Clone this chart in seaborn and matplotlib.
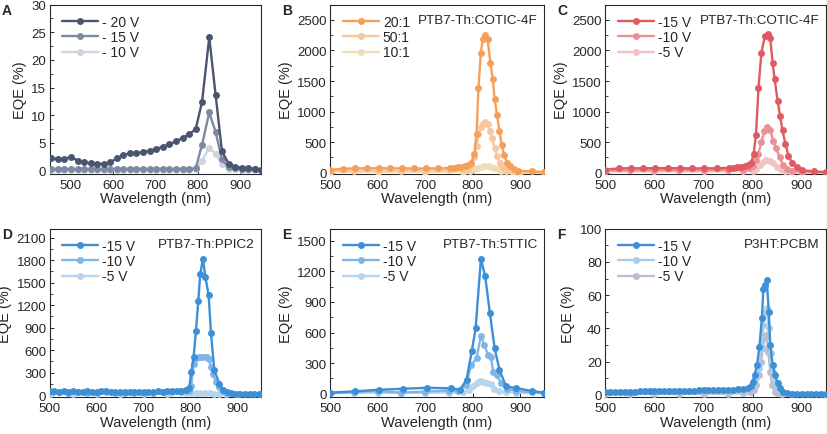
import numpy as np
import pandas as pd
import matplotlib
matplotlib.use("Agg")
import matplotlib.pyplot as plt
import seaborn as sns
from matplotlib.ticker import MultipleLocator, AutoMinorLocator

# ---------------- data ----------------
# Panel A
a_x = [454, 470, 485, 500, 516, 531, 547, 562, 578, 593, 609, 624, 640, 655, 671, 686,
       702, 717, 733, 749, 764, 780, 795, 810, 827, 842, 857, 873, 888, 904, 919, 935, 950]
a_20v = [2.2, 2.1, 2.0, 2.5, 1.8, 1.5, 1.3, 1.2, 1.2, 1.5, 2.2, 2.8, 3.1, 3.2, 3.3, 3.6,
         3.9, 4.3, 4.8, 5.3, 5.9, 6.6, 7.5, 12.4, 24.1, 13.7, 3.5, 1.2, 0.7, 0.5, 0.4, 0.3, 0.1]
a_15v = [0.3, 0.3, 0.3, 0.3, 0.3, 0.3, 0.3, 0.3, 0.3, 0.3, 0.3, 0.3, 0.3, 0.3, 0.3, 0.3,
         0.3, 0.3, 0.3, 0.3, 0.3, 0.3, 0.4, 4.7, 10.5, 7.0, 2.0, 0.6, 0.4, 0.3, 0.3, 0.2, 0.1]
a_10v = [0.1, 0.1, 0.1, 0.1, 0.1, 0.1, 0.1, 0.1, 0.1, 0.1, 0.1, 0.1, 0.1, 0.1, 0.1, 0.1,
         0.1, 0.1, 0.1, 0.1, 0.1, 0.1, 0.2, 1.8, 4.1, 3.0, 1.2, 0.3, 0.2, 0.1, 0.1, 0.1, 0.1]

# Panel B (dilution ratio)
b1_x = [500, 527, 552, 577, 602, 627, 652, 677, 702, 727, 752, 760, 768, 776, 784, 791, 797,
        803, 808, 812, 817, 821, 826, 831, 837, 842, 846, 851, 856, 861, 866, 872, 879, 886,
        895, 925, 950]
b1_y = [45, 65, 70, 70, 72, 72, 70, 68, 68, 70, 75, 80, 85, 95, 105, 120, 160,
        300, 640, 1390, 1960, 2180, 2260, 2190, 1800, 1530, 1200, 950, 680, 450, 290, 160, 110, 60,
        30, 20, 10]
b2_x = [500, 550, 600, 650, 700, 750, 780, 790, 797, 803, 808, 812, 817, 822, 826, 831, 836,
        841, 846, 851, 857, 863, 870, 880, 900, 950]
b2_y = [30, 32, 34, 35, 35, 38, 45, 60, 120, 250, 430, 630, 740, 800, 830, 790, 680,
        560, 400, 270, 150, 80, 40, 20, 10, 5]
b3_x = [500, 600, 700, 780, 795, 803, 810, 817, 824, 831, 838, 845, 852, 860, 870, 885, 950]
b3_y = [15, 15, 15, 18, 30, 55, 80, 100, 110, 105, 95, 75, 55, 35, 20, 10, 5]

# Panel C (bias, COTIC-4F)
c1_x = [500, 527, 552, 577, 602, 627, 652, 677, 702, 727, 752, 760, 768, 776, 784, 791, 797,
        802, 807, 812, 818, 825, 831, 836, 841, 845, 851, 856, 861, 867, 873, 881, 890, 900,
        925, 950]
c1_y = [50, 70, 72, 72, 74, 74, 72, 70, 70, 72, 78, 82, 88, 95, 105, 120, 160,
        300, 620, 1380, 1960, 2230, 2270, 2200, 1790, 1530, 1180, 930, 690, 470, 280, 150, 90, 40,
        20, 10]
c2_x = [500, 550, 600, 650, 700, 750, 780, 792, 800, 806, 812, 818, 824, 830, 836, 842, 848,
        855, 862, 870, 880, 900, 950]
c2_y = [35, 38, 40, 40, 40, 42, 50, 70, 110, 200, 310, 500, 680, 745, 700, 520, 400,
        250, 130, 60, 25, 10, 5]
c3_x = [500, 600, 700, 780, 800, 808, 815, 822, 828, 835, 842, 850, 858, 866, 878, 900, 950]
c3_y = [20, 22, 22, 25, 35, 60, 120, 180, 205, 190, 160, 100, 60, 30, 10, 5, 3]

# Panel D (PTB7-Th:PPIC2)
d1_x = [500, 510, 520, 530, 540, 550, 560, 570, 580, 590, 600, 610, 620, 630, 640, 650, 660,
        670, 680, 690, 700, 710, 720, 730, 740, 750, 760, 770, 780, 790, 797, 801, 806, 811,
        816, 820, 826, 831, 838, 843, 850, 861, 868, 876, 885, 895, 905, 915, 925, 935, 945, 950]
d1_y = [55, 50, 48, 52, 45, 50, 47, 44, 50, 46, 48, 55, 52, 45, 42, 40, 44,
        46, 42, 45, 48, 44, 46, 50, 48, 52, 55, 60, 62, 65, 96, 312, 506, 853,
        1255, 1610, 1818, 1580, 1330, 830, 333, 152, 74, 40, 25, 20, 18, 20, 18, 20, 18, 15]
d2_x = [500, 520, 540, 560, 580, 600, 620, 640, 660, 680, 700, 720, 740, 760, 780, 792, 797,
        801, 806, 811, 817, 822, 828, 834, 838, 843, 847, 853, 860, 868, 878, 900, 950]
d2_y = [40, 38, 36, 38, 35, 36, 38, 34, 35, 36, 34, 36, 38, 40, 45, 50, 60,
        120, 420, 500, 505, 505, 505, 505, 480, 380, 282, 180, 110, 55, 25, 15, 10]
d3_x = [500, 550, 600, 650, 700, 750, 790, 801, 811, 820, 830, 840, 850, 860, 875, 900, 950]
d3_y = [20, 20, 20, 20, 20, 22, 24, 25, 28, 30, 28, 25, 22, 18, 15, 12, 10]

# Panel E (PTB7-Th:5TTIC)
e1_x = [500, 553, 603, 653, 703, 755, 773, 787, 798, 806, 817, 826, 836, 846, 856, 870, 890,
        925, 950]
e1_y = [10, 22, 38, 47, 57, 52, 38, 137, 420, 640, 1320, 1155, 790, 445, 235, 70, 55,
        25, 10]
e2_x = [500, 550, 600, 650, 700, 750, 770, 785, 797, 808, 817, 824, 832, 838, 843, 850, 860,
        872, 890, 925, 950]
e2_y = [5, 15, 25, 10, 20, 30, 25, 80, 280, 350, 565, 480, 383, 360, 215, 180, 105,
        50, 25, 15, 5]
e3_x = [500, 550, 600, 650, 700, 750, 780, 792, 800, 808, 815, 822, 830, 838, 845, 855, 870,
        890, 950]
e3_y = [3, 8, 10, 5, 8, 10, 15, 40, 70, 100, 120, 110, 100, 95, 50, 30, 15,
        8, 3]

# Panel F (P3HT:PCBM)
f1_x = [500, 510, 520, 530, 540, 550, 560, 570, 580, 590, 600, 610, 620, 630, 640, 650, 660,
        670, 680, 690, 700, 710, 720, 730, 740, 750, 760, 770, 780, 790, 796, 800, 804, 809,
        814, 819, 822, 826, 829, 833, 836, 841, 846, 851, 856, 862, 870, 880, 890, 900, 910,
        920, 930, 940, 950]
f1_y = [1.8, 1.8, 1.9, 1.9, 2.0, 2.0, 2.0, 2.1, 2.1, 2.2, 2.2, 2.3, 2.3, 2.4, 2.4, 2.5, 2.5,
        2.6, 2.6, 2.7, 2.8, 2.8, 2.9, 3.0, 3.0, 3.1, 3.2, 3.4, 3.7, 4.3, 5.5, 8, 12, 18,
        29, 46, 64, 66, 69, 50, 30, 18, 12, 7, 4, 2, 1.0, 0.7, 0.6, 0.6, 0.5,
        0.5, 0.5, 0.5, 0.5]
f2_x = [500, 550, 600, 650, 700, 750, 780, 795, 802, 808, 813, 818, 822, 826, 829, 833, 837,
        841, 846, 852, 860, 880, 950]
f2_y = [1.5, 1.8, 2.0, 2.2, 2.4, 2.6, 3.0, 4.0, 6, 10, 16, 28, 42, 50, 52, 40, 25,
        14, 8, 4, 1.5, 0.5, 0.3]
f3_x = [500, 550, 600, 650, 700, 750, 780, 795, 802, 808, 813, 817, 821, 825, 828, 832, 836,
        840, 845, 850, 860, 880, 950]
f3_y = [0.5, 0.5, 0.6, 0.6, 0.7, 0.8, 1.0, 1.5, 3, 6, 12, 20, 28, 35, 36, 26, 14,
        6, 2, 1, 0.5, 0.3, 0.2]

volt_labels_a = ["- 20 V", "- 15 V", "- 10 V"]
ratio_labels = ["20:1", "50:1", "10:1"]
volt_labels = ["-15 V", "-10 V", "-5 V"]

# ---------------- style ----------------
sns.set_theme(style="ticks")
plt.rcParams["font.family"] = ["Liberation Sans", "DejaVu Sans"]
plt.rcParams["axes.linewidth"] = 0.8
plt.rcParams["xtick.direction"] = "in"
plt.rcParams["ytick.direction"] = "in"

grey_a = ["#4a5670", "#7d8aa3", "#cdd3df"]
orange = ["#f5a05a", "#f9c79e", "#efdcb8"]
red = ["#e05a62", "#eb9196", "#f2c2c5"]
blue = ["#3d8fd6", "#80b6e6", "#b7d5ef"]
blue_f = ["#3d8fd6", "#a7cde9", "#b9bfcf"]

fig = plt.figure(figsize=(8.27, 4.35), dpi=100)

row1_b, row2_b = 0.598, 0.084
h1, h2 = 0.389, 0.388
lefts = [0.060, 0.399, 0.732]
widths = [0.256, 0.259, 0.267]


def draw_panel(ax, series, labels, colors, xlim, ylim, ystep, note=None, letter=""):
    # draw lightest first so the strongest curve sits on top
    for i in reversed(range(len(series))):
        x, y = series[i]
        df = pd.DataFrame({"x": x, "y": y})
        sns.lineplot(data=df, x="x", y="y", ax=ax, color=colors[i], marker="o",
                     markersize=5, markeredgewidth=0, linewidth=1.7,
                     label=labels[i], zorder=3 + (len(series) - i), sort=True)
    ax.set_xlim(*xlim)
    ax.set_ylim(*ylim)
    ax.xaxis.set_major_locator(MultipleLocator(100))
    ax.yaxis.set_major_locator(MultipleLocator(ystep))
    ax.yaxis.set_minor_locator(AutoMinorLocator(2))
    ax.tick_params(axis="x", which="major", labelsize=9.5, length=3, width=0.7, pad=3.5)
    ax.tick_params(axis="y", which="major", labelsize=9.5, length=3, width=0.7, pad=2.5)
    ax.tick_params(axis="y", which="minor", length=1.8, width=0.6)
    ax.set_xlabel("Wavelength (nm)", fontsize=10.5, labelpad=0.5)
    ax.set_ylabel("EQE (%)", fontsize=10.5, labelpad=3)
    handles, labs = ax.get_legend_handles_labels()
    ax.legend(handles[::-1], labs[::-1], loc="upper left", frameon=False, fontsize=10,
              handlelength=2.6, handletextpad=0.3, labelspacing=0.1,
              borderaxespad=0.2, bbox_to_anchor=(0.02, 0.99))
    if note:
        ax.text(0.97, 0.945, note, transform=ax.transAxes, ha="right", va="top", fontsize=9.7)
    pos = ax.get_position()
    fig.text(pos.x0 - 0.058, pos.y1 + 0.004, letter, fontsize=10, fontweight="bold",
             ha="left", va="top")


ax_a = fig.add_axes([lefts[0], row1_b, widths[0], h1])
draw_panel(ax_a, [(a_x, a_20v), (a_x, a_15v), (a_x, a_10v)], volt_labels_a, grey_a,
           (450, 950), (-0.6, 30), 5, letter="A")

ax_b = fig.add_axes([lefts[1], row1_b, widths[1], h1])
draw_panel(ax_b, [(b1_x, b1_y), (b2_x, b2_y), (b3_x, b3_y)], ratio_labels, orange,
           (500, 950), (-20, 2750), 500, note="PTB7-Th:COTIC-4F", letter="B")

ax_c = fig.add_axes([lefts[2], row1_b, widths[2], h1])
draw_panel(ax_c, [(c1_x, c1_y), (c2_x, c2_y), (c3_x, c3_y)], volt_labels, red,
           (500, 950), (-20, 2750), 500, note="PTB7-Th:COTIC-4F", letter="C")

ax_d = fig.add_axes([lefts[0], row2_b, widths[0], h2])
draw_panel(ax_d, [(d1_x, d1_y), (d2_x, d2_y), (d3_x, d3_y)], volt_labels, blue,
           (500, 950), (-30, 2220), 300, note="PTB7-Th:PPIC2", letter="D")

ax_e = fig.add_axes([lefts[1], row2_b, widths[1], h2])
draw_panel(ax_e, [(e1_x, e1_y), (e2_x, e2_y), (e3_x, e3_y)], volt_labels, blue,
           (500, 950), (-38, 1620), 300, note="PTB7-Th:5TTIC", letter="E")

ax_f = fig.add_axes([lefts[2], row2_b, widths[2], h2])
draw_panel(ax_f, [(f1_x, f1_y), (f2_x, f2_y), (f3_x, f3_y)], volt_labels, blue_f,
           (500, 950), (-1.5, 100), 20, note="P3HT:PCBM", letter="F")

fig.savefig("out.png", dpi=100)
